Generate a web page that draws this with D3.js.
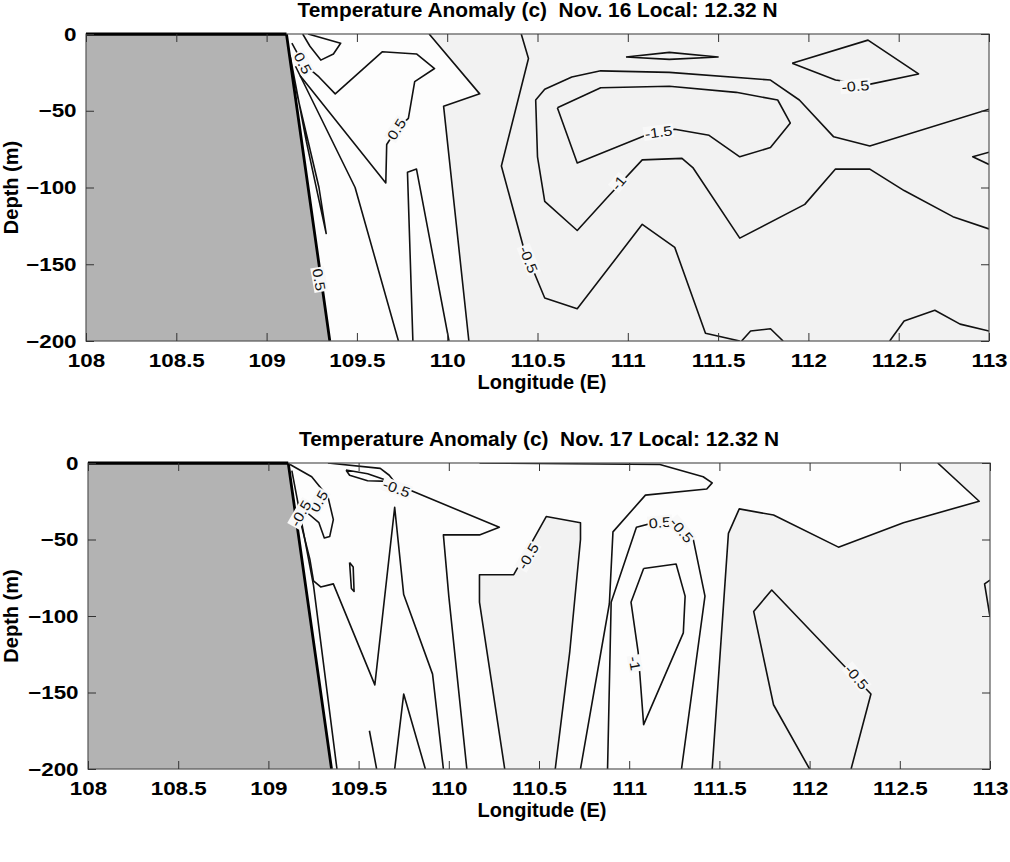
<!DOCTYPE html>
<html><head><meta charset="utf-8">
<script src="https://cdn.jsdelivr.net/npm/d3@7"></script>
<style>body{margin:0;background:#fff}</style>
</head><body>
<svg id="chart" width="1010" height="862"></svg>
<script>
// ---------- data ----------
const lonTicks = [108,108.5,109,109.5,110,110.5,111,111.5,112,112.5,113];
const depthTicks = [0,-50,-100,-150,-200];
const titles = ["Temperature Anomaly (c)  Nov. 16 Local: 12.32 N",
                "Temperature Anomaly (c)  Nov. 17 Local: 12.32 N"];
const land = [[108,0],[109.11,0],[109.35,-200],[108,-200]];

// Nov. 16 contour lines [lon, depth]
const nov16Lines = [
  [[110.41,0],[110.45,-16],[110.30,-86],[110.42,-138],[110.54,-172],[110.72,-179],[111.08,-124],[111.26,-139],[111.43,-195],[111.62,-200]],
  [[113,-49],[112.34,-73],[112.14,-67],[111.95,-43],[111.79,-30],[111.23,-25],[110.85,-24],[110.69,-28],[110.54,-36],[110.49,-43],[110.50,-80],[110.54,-109],[110.72,-128],[110.89,-106],[111.08,-82],[111.30,-81],[111.36,-87],[111.62,-133],[111.98,-111],[112.15,-88],[112.34,-88],[112.53,-102],[112.80,-119],[113,-127]],
  [[110.61,-48],[110.72,-84],[111.10,-66],[111.26,-62],[111.45,-66],[111.62,-80],[111.79,-74],[111.90,-58],[111.83,-43],[111.60,-38],[111.23,-34],[110.85,-35],[110.61,-48]],
  [[110.99,-15],[111.23,-12],[111.50,-15],[111.23,-16.5],[110.99,-15]],
  [[111.91,-19],[112.33,-4],[112.61,-26],[112.33,-33],[112.15,-30],[111.91,-19]],
  [[113,-77],[112.91,-80],[113,-85]],
  [[112.45,-200],[112.53,-187],[112.70,-180],[112.84,-189],[113,-193.5]],
  [[111.63,-200],[111.68,-193.5],[111.79,-192],[111.86,-200]],
  [[109.20,0],[109.24,-8],[109.30,-17],[109.37,-13],[109.41,-6],[109.23,0]],
  [[109.90,0],[110.18,-39],[109.98,-47],[110.12,-200]],
  [[109.81,-200],[109.78,-90],[109.83,-88],[110.01,-200]],
  [[109.16,-21],[109.49,-100],[109.73,-200]],
  [[109.185,-27],[109.66,-97],[109.665,-72],[109.72,-62],[109.785,-55],[109.82,-31],[109.93,-22.5],[109.83,-13],[109.64,-11.6],[109.38,-39],[109.29,-28],[109.20,-19],[109.14,-6]],
  [[109.13,-14],[109.22,-70],[109.33,-130],[109.29,-100],[109.17,-40],[109.13,-14]]
];
const nov16White = [[109.11,0],[109.90,0],[110.18,-39],[109.98,-47],[110.12,-200],[109.35,-200]];
const nov16Grey = [];
const nov16Labels = [
  {t:"0.5", lon:109.20, d:-19, a:62},
  {t:"0.5", lon:109.72, d:-62, a:-58},
  {t:"0.5", lon:109.29, d:-160, a:80},
  {t:"-0.5", lon:110.45, d:-147, a:68},
  {t:"-1", lon:110.95, d:-97, a:-50},
  {t:"-1.5", lon:111.17, d:-64, a:-8},
  {t:"-0.5", lon:112.26, d:-34, a:-5}
];

// Nov. 17 contour lines [lon, depth]
const nov17Lines = [
  [[110.31,-200],[110.17,-91],[110.17,-73],[110.36,-73],[110.54,-35],[110.73,-39],[110.73,-50],[110.67,-124],[110.59,-200]],
  [[110.17,0],[111.17,-1],[111.41,-9],[111.46,-13],[111.43,-17],[111.09,-21],[110.91,-45],[110.89,-92],[110.73,-200]],
  [[110.88,-200],[110.90,-91],[111.04,-42],[111.17,-38],[111.29,-40],[111.35,-47],[111.42,-87],[111.29,-200]],
  [[111.08,-69],[111.26,-66],[111.31,-87],[111.30,-111],[111.08,-171],[111.05,-124],[111.01,-91],[111.08,-69]],
  [[112.71,0],[112.94,-25],[112.52,-39],[112.16,-55],[111.80,-34],[111.61,-30],[111.55,-46],[111.46,-200]],
  [[112.00,-200],[111.80,-158],[111.69,-97],[111.79,-83],[112.34,-151],[112.23,-200]],
  [[113,-76.5],[112.97,-79],[113,-100.5]],
  [[109.45,-65],[109.47,-68],[109.475,-84],[109.46,-82],[109.45,-65]],
  [[109.43,-4.6],[109.55,-7],[109.67,-12],[109.55,-11.6],[109.45,-8],[109.43,-4.6]],
  [[109.33,0],[109.62,-3.5],[109.67,-8],[109.71,-14],[109.81,-19],[110.28,-42],[110.17,-47],[109.97,-47],[110.00,-87],[110.10,-200]],
  [[109.175,-37],[109.23,-63],[109.25,-77],[109.29,-81],[109.36,-79],[109.59,-145],[109.70,-29],[109.75,-86],[109.91,-138],[109.97,-200]],
  [[109.70,-200],[109.75,-151],[109.87,-200]],
  [[109.56,-175],[109.60,-200]],
  [[109.12,-1],[109.24,-9],[109.33,-22],[109.36,-37],[109.34,-48],[109.31,-49],[109.28,-39],[109.22,-33]],
  [[109.13,-5],[109.25,-80],[109.38,-200]]
];
const nov17White = [[109.11,0],[112.71,0],[112.94,-25],[112.52,-39],[112.16,-55],[111.80,-34],[111.61,-30],[111.55,-46],[111.46,-200],[109.35,-200]];
const nov17Grey = [[110.31,-200],[110.17,-91],[110.17,-73],[110.36,-73],[110.54,-35],[110.73,-39],[110.73,-50],[110.67,-124],[110.59,-200]];
const nov17Labels = [
  {t:"-0.5", lon:109.71, d:-16.6, a:20},
  {t:"0.5", lon:109.28, d:-25, a:-60},
  {t:"-0.5", lon:109.18, d:-33, a:-60},
  {t:"-0.5", lon:110.44, d:-61, a:-60},
  {t:"0.5", lon:111.17, d:-39, a:-5},
  {t:"-0.5", lon:111.29, d:-44, a:50},
  {t:"-1", lon:111.03, d:-131, a:80},
  {t:"-0.5", lon:112.26, d:-140, a:50}
];

// ---------- layout ----------
const panels = [
  {x0:86, x1:989, y0:34, y1:341, title:titles[0], lines:nov16Lines, labels:nov16Labels, white:nov16White, grey:nov16Grey},
  {x0:88, x1:990, y0:463, y1:769, title:titles[1], lines:nov17Lines, labels:nov17Labels, white:nov17White, grey:nov17Grey}
];
const FONT = "'Liberation Sans', Arial, Helvetica, sans-serif";
const BG = "#f2f2f2";
const svg = d3.select("#chart");

panels.forEach((p, i) => {
  const x = d3.scaleLinear().domain([108,113]).range([p.x0,p.x1]);
  const y = d3.scaleLinear().domain([0,-200]).range([p.y0,p.y1]);
  const g = svg.append("g");
  const clipId = "clip"+i;
  svg.append("clipPath").attr("id",clipId).append("rect")
    .attr("x",p.x0).attr("y",p.y0).attr("width",p.x1-p.x0).attr("height",p.y1-p.y0);

  g.append("rect").attr("x",p.x0).attr("y",p.y0).attr("width",p.x1-p.x0).attr("height",p.y1-p.y0)
    .attr("fill",BG);

  const line = d3.line().x(d=>x(d[0])).y(d=>y(d[1]));
  const body = g.append("g").attr("clip-path",`url(#${clipId})`);
  body.append("path").attr("d", line(p.white)+"Z").attr("fill","#fdfdfd");
  if (p.grey.length) body.append("path").attr("d", line(p.grey)+"Z").attr("fill",BG);
  body.append("path").attr("d", line(land)+"Z").attr("fill","#b3b3b3");
  body.selectAll("path.c").data(p.lines).join("path").attr("class","c")
    .attr("d", line).attr("fill","none").attr("stroke","#111").attr("stroke-width",1.6)
    .attr("stroke-linejoin","round");
  body.append("path").attr("d", line([land[0],land[1],land[2]])).attr("fill","none")
    .attr("stroke","#000").attr("stroke-width",2.8);

  const lab = body.selectAll("g.lab").data(p.labels).join("g").attr("class","lab")
    .attr("transform", d=>`translate(${x(d.lon)},${y(d.d)}) rotate(${d.a}) scale(1.15,1)`);
  lab.append("text").text(d=>d.t).attr("text-anchor","middle").attr("dy","0.35em")
    .attr("font-family",FONT).attr("font-size",14).attr("fill","#111");
  lab.each(function(){
    const gg = d3.select(this); const bb = gg.select("text").node().getBBox();
    gg.insert("rect","text").attr("x",bb.x-1).attr("y",bb.y+1).attr("width",bb.width+2).attr("height",bb.height-2)
      .attr("fill","#f8f8f8");
  });

  g.append("rect").attr("x",p.x0).attr("y",p.y0).attr("width",p.x1-p.x0).attr("height",p.y1-p.y0)
    .attr("fill","none").attr("stroke","#555").attr("stroke-width",1.2);
  g.append("line").attr("x1",p.x0).attr("x2",x(109.11)).attr("y1",p.y0).attr("y2",p.y0)
    .attr("stroke","#000").attr("stroke-width",2.8);

  g.append("g").attr("transform",`translate(0,${p.y1})`)
    .call(d3.axisBottom(x).tickValues(lonTicks).tickFormat(d3.format("")).tickSize(-8).tickPadding(13));
  g.append("g").attr("transform",`translate(0,${p.y0})`)
    .call(d3.axisTop(x).tickValues(lonTicks).tickFormat("").tickSize(-8));
  g.append("g").attr("transform",`translate(${p.x0},0)`)
    .call(d3.axisLeft(y).tickValues(depthTicks).tickFormat(d3.format("")).tickSize(-8).tickPadding(8));
  g.append("g").attr("transform",`translate(${p.x1},0)`)
    .call(d3.axisRight(y).tickValues(depthTicks).tickFormat("").tickSize(-8));
  g.selectAll(".domain").remove();
  g.selectAll(".tick line").attr("stroke","#333");
  g.selectAll(".tick text").attr("font-family",FONT).attr("font-size",19).attr("font-weight","bold")
    .attr("fill","#000").attr("transform","scale(1.18,1)");

  g.append("text").attr("x",(p.x0+p.x1)/2).attr("y",p.y0-17.5).attr("text-anchor","middle")
    .attr("font-family",FONT).attr("font-size",20).attr("font-weight","bold")
    .style("white-space","pre")
    .attr("textLength",480).attr("lengthAdjust","spacingAndGlyphs").text(p.title);
  g.append("text").attr("x",542).attr("y",p.y1+48).attr("text-anchor","middle")
    .attr("font-family",FONT).attr("font-size",20).attr("font-weight","bold").text("Longitude (E)");
  g.append("text").attr("transform",`translate(18,${(p.y0+p.y1)/2}) rotate(-90)`).attr("text-anchor","middle")
    .attr("font-family",FONT).attr("font-size",20).attr("font-weight","bold").text("Depth (m)");
});
</script>
</body></html>
